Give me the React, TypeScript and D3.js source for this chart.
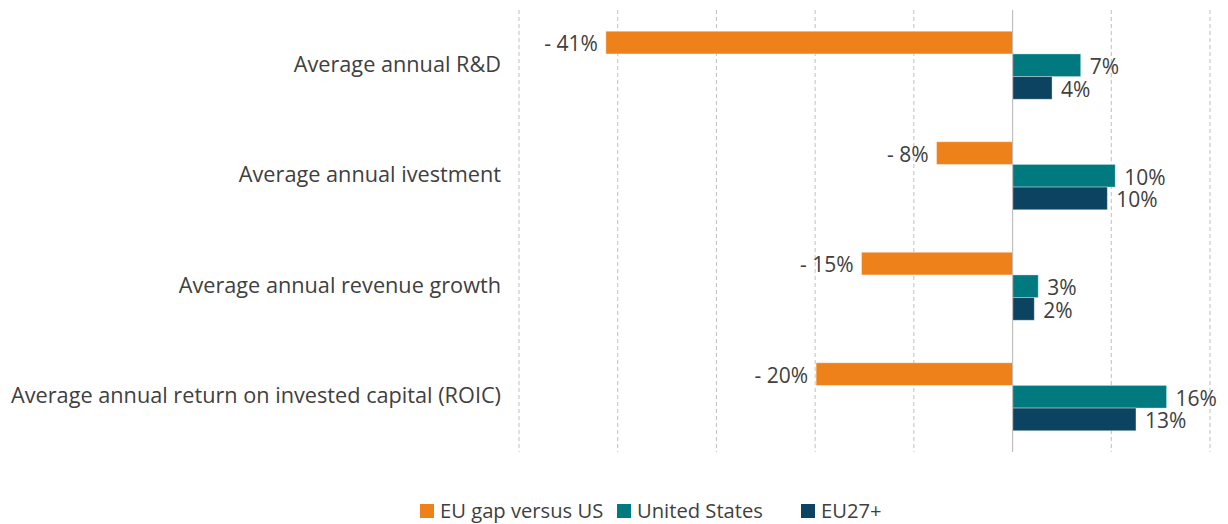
import React from "react";
import * as d3 from "d3";

const categories = [
  "Average annual R&D",
  "Average annual ivestment",
  "Average annual revenue growth",
  "Average annual return on invested capital (ROIC)",
];
const seriesNames = ["EU gap versus US", "United States", "EU27+"];
const seriesColors = ["#EE8119", "#00797F", "#0B4360"];
const gapValues = [-41.2, -7.7, -15.3, -19.9];
const usValues = [6.9, 10.4, 2.6, 15.6];
const euValues = [4.0, 9.6, 2.2, 12.5];
const gapLabels = ["- 41%", "- 8%", "- 15%", "- 20%"];
const usLabels = ["7%", "10%", "3%", "16%"];
const euLabels = ["4%", "10%", "2%", "13%"];
const gridTicks = [-50, -40, -30, -20, -10, 10, 20];

const W = 1228;
const H = 524;
const FONT = "'Open Sans', sans-serif";
const TEXT = "#404040";

export default function App() {
  const x = d3.scaleLinear().domain([-50, 20]).range([519, 1210]);
  const y0 = d3
    .scaleBand<string>()
    .domain(categories)
    .range([10, 452])
    .paddingInner(0.385)
    .paddingOuter(0.1925);
  const y1 = d3
    .scaleBand<string>()
    .domain(seriesNames)
    .range([0, y0.bandwidth()]);

  const seriesValues = [gapValues, usValues, euValues];
  const seriesLabels = [gapLabels, usLabels, euLabels];

  return (
    <svg
      width={W}
      height={H}
      style={{ position: "absolute", left: 0, top: 0, background: "#fff" }}
      fontFamily={FONT}
    >
      {gridTicks.map((t) => (
        <line
          key={t}
          x1={x(t)}
          x2={x(t)}
          y1={10}
          y2={452}
          stroke="#BFBFBF"
          strokeWidth={1}
          strokeDasharray="4,3"
        />
      ))}
      {categories.map((c, ci) => (
        <g key={c} transform={`translate(0,${y0(c)})`}>
          {seriesNames.map((s, si) => {
            const v = seriesValues[si][ci];
            const yy = y1(s)!;
            const bh = y1.bandwidth();
            const x0 = x(Math.min(0, v));
            const w = Math.abs(x(v) - x(0));
            const labelX = v < 0 ? x(v) - 8 : x(v) + 9;
            return (
              <g key={s}>
                <rect
                  x={x0}
                  y={yy}
                  width={w}
                  height={bh}
                  fill={seriesColors[si]}
                  stroke="rgba(255,255,255,0.35)"
                  strokeWidth={1}
                />
                <text
                  x={labelX}
                  y={yy + bh / 2 + 1.5}
                  dy="0.35em"
                  textAnchor={v < 0 ? "end" : "start"}
                  fontSize={21}
                  fill={TEXT}
                  xmlSpace="preserve"
                  style={{ whiteSpace: "pre" }}
                >
                  {seriesLabels[si][ci]}
                </text>
              </g>
            );
          })}
        </g>
      ))}
      {categories.map((c) => (
        <text
          key={c}
          x={501}
          y={y0(c)! + y0.bandwidth() / 2 - 1}
          dy="0.35em"
          textAnchor="end"
          fontSize={21.7}
          fill={TEXT}
        >
          {c}
        </text>
      ))}
      <line x1={x(0)} x2={x(0)} y1={10} y2={452} stroke="#BFBFBF" strokeWidth={1.2} />
      {(() => {
        const legendX = [420, 617, 801];
        return seriesNames.map((s, i) => (
          <g key={s} transform={`translate(${legendX[i]},504)`}>
            <rect width={14} height={14} fill={seriesColors[i]} />
            <text x={20} y={7} dy="0.35em" fontSize={20.2} fill={TEXT}>
              {s}
            </text>
          </g>
        ));
      })()}
    </svg>
  );
}
